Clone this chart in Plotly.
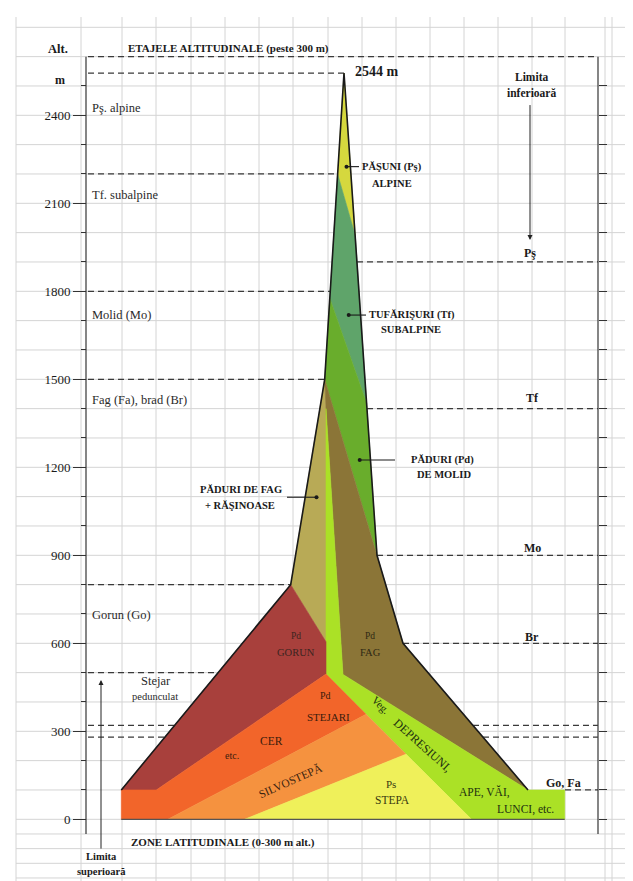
import plotly.graph_objects as go

# ---------------- data ----------------
alt_ticks = [0, 300, 600, 900, 1200, 1500, 1800, 2100, 2400]
alt_minor = [100, 200, 400, 500, 700, 800, 1000, 1100, 1300, 1400, 1600, 1700,
             1900, 2000, 2200, 2300, 2500]
right_ticks = [0, 100, 200, 300, 400, 500, 600, 700, 800, 900, 1000, 1100, 1200,
               1300, 1400, 1500, 1600, 1700, 1800, 1900, 2000, 2100, 2200, 2300,
               2400, 2500]

# vegetation zones: horizontal diagram position and altitude (m)
pasuni_x = [336, 329.6, 347.3]
pasuni_alt = [2544, 2200, 1990]
tufarisuri_x = [329.6, 347.3, 358.6, 321.8]
tufarisuri_alt = [2200, 1990, 1418, 1776]
molid_x = [321.8, 358.6, 369, 316.7]
molid_alt = [1776, 1418, 900, 1500]
fag_ras_x = [316.7, 282.7, 318, 318]
fag_ras_alt = [1500, 800, 605, 1400]
fag_x = [316.7, 369, 395, 520, 335, 318]
fag_alt = [1500, 900, 600, 100, 494, 1400]
depresiuni_x = [318, 335, 520, 556.7, 556.7, 463.5, 318]
depresiuni_alt = [1400, 494, 100, 100, 0, 0, 495]
gorun_x = [113.3, 282.7, 318, 318, 148.3]
gorun_alt = [100, 800, 605, 495, 100]
stejari_x = [113.3, 148.3, 318, 358, 160, 113.3]
stejari_alt = [100, 100, 495, 358, 0, 0]
silvostepa_x = [160, 358, 398, 236.7]
silvostepa_alt = [0, 358, 222, 0]
stepa_x = [236.7, 398, 463.5]
stepa_alt = [0, 222, 0]

outline_x = [113.3, 282.7, 316.7, 336, 369, 395, 520]
outline_alt = [100, 800, 1500, 2544, 900, 600, 100]
base_x = [113.3, 556.7]
base_alt = [0, 0]

limits_left_alt = [2600, 2544, 2200, 1800, 1500, 800, 500, 320, 280]
limits_left_end = [590, 336, 329.6, 322.2, 316.7, 282.7, 210, 166.5, 157]
limits_right_alt = [1900, 1400, 900, 600, 320, 280, 100]
limits_right_start = [349, 359, 369, 395, 465, 475, 557]

pointer_dot_x = [338.5, 340.7, 351.7, 308.5]
pointer_end_x = [351, 358, 387, 279]
pointer_alt = [2225, 1719, 1225, 1098]

grid_x = [8, 73, 114, 148, 183, 217, 251, 285, 320, 354, 388, 422, 456, 490,
          524, 557, 597, 604, 625]
grid_alt = [-200, -150, -100, -50, 0, 100, 200, 300, 400, 500, 600, 700, 800,
            900, 1000, 1100, 1200, 1300, 1400, 1500, 1600, 1700, 1800, 1900,
            2000, 2100, 2200, 2300, 2400, 2500, 2600, 2700]

# ---------------- figure ----------------
AX_LEFT, AX_RIGHT = 78, 590
FONT = "Liberation Serif, Times New Roman, serif"
fig = go.Figure()

def seg_trace(xs, ys, color, width, dash=None):
    fig.add_trace(go.Scatter(x=xs, y=ys, mode="lines", hoverinfo="skip",
                             line=dict(color=color, width=width, dash=dash),
                             showlegend=False))

# background table grid
gx, gy = [], []
for v in grid_x:
    gx += [v, v, None]; gy += [-215, 2735, None]
for a in grid_alt:
    gx += [8, 625, None]; gy += [a, a, None]
seg_trace(gx, gy, "#d4d4d4", 1)

# axis lines
seg_trace([AX_LEFT, AX_LEFT, None, AX_RIGHT, AX_RIGHT],
          [-50, 2600, None, -50, 2600], "#444444", 1.3)

# dashed limits
dx, dy = [], []
for a, e in zip(limits_left_alt, limits_left_end):
    dx += [AX_LEFT + 2, e, None]; dy += [a, a, None]
for a, s in zip(limits_right_alt, limits_right_start):
    dx += [s, AX_RIGHT, None]; dy += [a, a, None]
seg_trace(dx, dy, "#3a3a3a", 1.2, "6px,4px")

zones = [
    (pasuni_x, pasuni_alt, "#d5d83e"),
    (tufarisuri_x, tufarisuri_alt, "#5fa46a"),
    (molid_x, molid_alt, "#69ad2c"),
    (fag_ras_x, fag_ras_alt, "#b8aa56"),
    (fag_x, fag_alt, "#8b7537"),
    (depresiuni_x, depresiuni_alt, "#abe126"),
    (gorun_x, gorun_alt, "#a8403c"),
    (stejari_x, stejari_alt, "#f2652a"),
    (silvostepa_x, silvostepa_alt, "#f5923f"),
    (stepa_x, stepa_alt, "#eff05a"),
]
for xs, ys, c in zones:
    fig.add_trace(go.Scatter(x=xs + xs[:1], y=ys + ys[:1], mode="lines",
                             fill="toself", fillcolor=c,
                             line=dict(color=c, width=0.6),
                             hoverinfo="skip", showlegend=False))

seg_trace(outline_x, outline_alt, "#1a1a1a", 1.6)
seg_trace(base_x, base_alt, "#555555", 1.2)

# pointers
px_, py_ = [], []
for d, e, a in zip(pointer_dot_x, pointer_end_x, pointer_alt):
    px_ += [d, e, None]; py_ += [a, a, None]
seg_trace(px_, py_, "#1a1a1a", 1.1)
fig.add_trace(go.Scatter(x=pointer_dot_x, y=pointer_alt, mode="markers",
                         marker=dict(color="#1a1a1a", size=4),
                         hoverinfo="skip", showlegend=False))

# invisible trace for the right axis
fig.add_trace(go.Scatter(x=[AX_RIGHT], y=[0], yaxis="y2", mode="markers",
                         marker=dict(opacity=0), hoverinfo="skip",
                         showlegend=False))

def label(x, y, text, size=11, bold=False, color="#1a1a1a", xanchor="center",
          angle=0):
    if bold:
        text = "<b>" + text + "</b>"
    fig.add_annotation(x=x, y=y, text=text, showarrow=False, xanchor=xanchor,
                       yanchor="middle", textangle=angle,
                       font=dict(family=FONT, size=size, color=color))

# headers
label(50, 2627, "Alt.", 12.5, True)
label(52, 2520, "m", 12, True)
label(220, 2628, "ETAJELE ALTITUDINALE (peste 300 m)", 11, True)
label(369, 2549, "2544 m", 14, True)
label(523, 2532, "Limita", 11.5, True)
label(523, 2475, "inferioară", 11.5, True)
# right-side limits
label(522, 1930, "Pş", 12, True)
label(524, 1435, "Tf", 12, True)
label(524, 924, "Mo", 12, True)
label(524, 623, "Br", 12, True)
label(555, 125, "Go, Fa", 12, True)
# left-side stages
for txt, a in [("Pş. alpine", 2424), ("Tf. subalpine", 2128),
               ("Molid (Mo)", 1720), ("Fag (Fa), brad (Br)", 1429),
               ("Gorun (Go)", 696)]:
    label(82, a, txt, 12.5, False, "#2a2a2a", "left")
label(148, 470, "Stejar", 12.5, False, "#2a2a2a")
label(147, 420, "pedunculat", 10.5, False, "#2a2a2a")
# pointer labels
label(352, 2225, "PĂŞUNI (Pş)", 10.5, True, xanchor="left")
label(384, 2168, "ALPINE", 10.5, True)
label(359, 1719, "TUFĂRIŞURI (Tf)", 10.5, True, xanchor="left")
label(403, 1671, "SUBALPINE", 10.5, True)
label(401, 1225, "PĂDURI (Pd)", 10.5, True, xanchor="left")
label(436, 1174, "DE MOLID", 10.5, True)
label(233, 1123, "PĂDURI DE FAG", 10.5, True)
label(232, 1071, "+ RĂŞINOASE", 10.5, True)
# zone labels
label(288, 626, "Pd", 9.5, color="#3b2420")
label(288, 569, "GORUN", 10.5, color="#3b2420")
label(362, 626, "Pd", 9.5, color="#2e2814")
label(362, 569, "FAG", 10.5, color="#2e2814")
label(317, 423, "Pd", 10, color="#3a1c0c")
label(320, 348, "STEJARI", 11, color="#3a1c0c")
label(263, 267, "CER", 11.5, color="#3a1c0c")
label(224, 217, "etc.", 10, color="#3a1c0c")
label(282, 134, "SILVOSTEPĂ", 11.5, color="#3a2410", angle=-24)
label(383, 119, "Ps", 11, color="#3a3a10")
label(384, 66, "STEPA", 11.5, color="#3a3a10")
label(373, 390, "Veg.", 11, color="#223010", angle=45)
label(414, 252, "DEPRESIUNI,", 12, color="#223010", angle=42)
label(476, 94, "APE, VĂI,", 11.5, color="#223010")
label(517, 34, "LUNCI, etc.", 11.5, color="#223010")
# bottom
label(215, -80, "ZONE LATITUDINALE (0-300 m alt.)", 11, True)
label(93, -127, "Limita", 10.5, True)
label(93, -178, "superioară", 10.5, True)

# arrows
fig.add_annotation(x=522, y=1975, ax=522, ay=2440, axref="x", ayref="y",
                   text="", showarrow=True, arrowhead=2, arrowsize=1,
                   arrowwidth=1, arrowcolor="#222222")
fig.add_annotation(x=93, y=475, ax=93, ay=-105, axref="x", ayref="y",
                   text="", showarrow=True, arrowhead=2, arrowsize=1,
                   arrowwidth=1, arrowcolor="#222222")

Y_RANGE = [-237.6, 2765.8]
fig.update_layout(
    width=633, height=881, margin=dict(l=0, r=0, t=0, b=0),
    paper_bgcolor="white", plot_bgcolor="white", showlegend=False,
    xaxis=dict(range=[0, 633], visible=False, fixedrange=True),
    yaxis=dict(range=Y_RANGE, anchor="free", position=AX_LEFT / 633,
               showgrid=False, zeroline=False, showline=False,
               tickmode="array", tickvals=alt_ticks,
               ticks="outside", ticklen=13, tickwidth=1, tickcolor="#333333",
               tickfont=dict(family=FONT, size=13, color="#1a1a1a"),
               minor=dict(tickmode="array", tickvals=alt_minor, ticks="outside",
                          ticklen=5, tickwidth=1, tickcolor="#333333",
                          showgrid=False)),
    yaxis2=dict(range=Y_RANGE, overlaying="y", side="right", anchor="free",
                position=AX_RIGHT / 633, showgrid=False, zeroline=False,
                showline=False, tickmode="array", tickvals=right_ticks,
                ticks="outside", ticklen=8, tickwidth=1, tickcolor="#333333",
                showticklabels=False),
)

fig.write_html("out.html")
